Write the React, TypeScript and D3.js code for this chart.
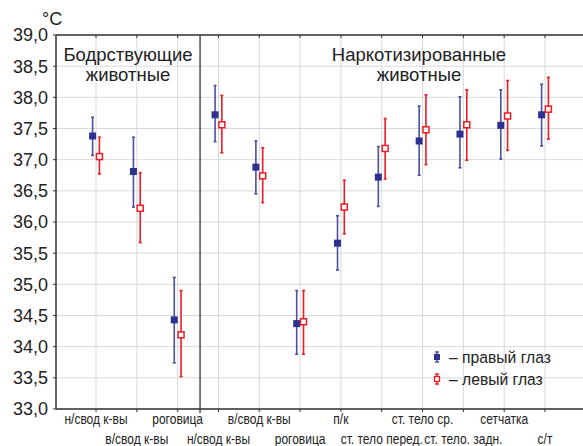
import React from "react";
import * as d3 from "d3";

const categories = [
  "н/свод к-вы", "в/свод к-вы", "роговица",
  "н/свод к-вы", "в/свод к-вы", "роговица",
  "п/к", "ст. тело перед.", "ст. тело ср.", "ст. тело. задн.", "сетчатка", "с/т",
];
const rightMean = [37.38, 36.81, 34.43, 37.72, 36.88, 34.37, 35.66, 36.72, 37.30, 37.41, 37.55, 37.72];
const rightLow = [37.07, 36.24, 33.74, 37.29, 36.45, 33.88, 35.23, 36.25, 36.75, 36.87, 37.01, 37.22];
const rightHigh = [37.68, 37.36, 35.11, 38.19, 37.30, 34.90, 36.10, 37.21, 37.86, 38.01, 38.12, 38.21];
const leftMean = [37.05, 36.22, 34.19, 37.56, 36.74, 34.40, 36.24, 37.18, 37.48, 37.56, 37.70, 37.81];
const leftLow = [36.77, 35.67, 33.52, 37.11, 36.31, 33.88, 35.81, 36.69, 36.92, 36.99, 37.15, 37.33];
const leftHigh = [37.36, 36.79, 34.90, 38.03, 37.19, 34.90, 36.67, 37.66, 38.04, 38.12, 38.27, 38.32];
const yTicks = [33, 33.5, 34, 34.5, 35, 35.5, 36, 36.5, 37, 37.5, 38, 38.5, 39];
const groupTitles = [["Бодрствующие", "животные"], ["Наркотизированные", "животные"]];
const legendLabels = ["– правый глаз", "– левый глаз"];

const W = 583, H = 446;
const left = 56, top = 35, bottom = 409;
const BLUE = "#2e3192";
const BLUE_BAR = "#4a4f9e";
const RED = "#ed1c24";
const FONT = "'Liberation Sans', Arial, sans-serif";

export default function App() {
  const x = d3.scaleLinear().domain([-1, 11]).range([55.2, 545]);
  const y = d3.scaleLinear().domain([33, 39]).range([bottom, top]);
  const fmt = (v: number) => v.toFixed(1).replace(".", ",");
  const off = 3.4;
  const sepX = (x(2) + x(3)) / 2 + 2;

  const series = [
    { mean: rightMean, lo: rightLow, hi: rightHigh, dx: -off, color: BLUE, bar: BLUE_BAR, filled: true },
    { mean: leftMean, lo: leftLow, hi: leftHigh, dx: off, color: RED, bar: RED, filled: false },
  ];

  return (
    <svg width={W} height={H} style={{ position: "absolute", left: 0, top: 0, background: "#fff" }}
      fontFamily={FONT}>
      {/* grid */}
      {yTicks.map((t) => (
        <line key={"gy" + t} x1={left} x2={W} y1={y(t)} y2={y(t)} stroke="#d9d9d9" strokeWidth={1} />
      ))}
      {categories.map((_, i) => (
        <line key={"gx" + i} x1={x(i)} x2={x(i)} y1={top} y2={bottom} stroke="#d9d9d9" strokeWidth={1} />
      ))}
      {/* axes */}
      <line x1={left} x2={left} y1={top} y2={bottom} stroke="#333" strokeWidth={1.5} />
      <line x1={left} x2={W} y1={bottom} y2={bottom} stroke="#333" strokeWidth={1.5} />
      <line x1={left} x2={W} y1={top} y2={top} stroke="#333" strokeWidth={1.5} />
      {yTicks.map((t) => (
        <line key={"ty" + t} x1={left - 3} x2={left} y1={y(t)} y2={y(t)} stroke="#333" strokeWidth={1} />
      ))}
      {categories.map((_, i) => (
        <g key={"tx" + i}>
          <line x1={x(i)} x2={x(i)} y1={bottom} y2={bottom + 3} stroke="#333" strokeWidth={1} />
          <line x1={x(i)} x2={x(i)} y1={top} y2={top + 3} stroke="#333" strokeWidth={1} />
        </g>
      ))}
      <line x1={sepX} x2={sepX} y1={top} y2={bottom + 4} stroke="#333" strokeWidth={1.3} />
      {/* y labels */}
      {yTicks.map((t) => (
        <text key={"ly" + t} x={48} y={y(t)} dy="0.36em" textAnchor="end" fontSize={18} fill="#222">
          {fmt(t)}
        </text>
      ))}
      <text x={42} y={25} fontSize={18} fill="#222">°C</text>
      {/* x labels */}
      {categories.map((c, i) => (
        <text key={"lx" + i} transform={`translate(${x(i)},${i % 2 === 0 ? 424 : 444}) scale(0.87,1)`}
          textAnchor="middle" fontSize={13.8} fill="#222">
          {c}
        </text>
      ))}
      {/* group titles */}
      {groupTitles.map((g, gi) => (
        <g key={"gt" + gi}>
          {g.map((line, li) => (
            <text key={li} x={gi === 0 ? 128 : 419} y={61 + li * 20} textAnchor="middle" fontSize={18.5} fill="#222">
              {line}
            </text>
          ))}
        </g>
      ))}
      {/* data */}
      {series.map((s, si) => (
        <g key={"s" + si}>
          {s.mean.map((m, i) => {
            const cx = x(i) + s.dx;
            return (
              <g key={i}>
                <line x1={cx} x2={cx} y1={y(s.lo[i])} y2={y(s.hi[i])} stroke={s.bar} strokeWidth={1.6} />
                <line x1={cx - 1.5} x2={cx + 1.5} y1={y(s.lo[i])} y2={y(s.lo[i])} stroke={s.bar} strokeWidth={1.6} />
                <line x1={cx - 1.5} x2={cx + 1.5} y1={y(s.hi[i])} y2={y(s.hi[i])} stroke={s.bar} strokeWidth={1.6} />
                {s.filled ? (
                  <rect x={cx - 3.5} y={y(m) - 3.5} width={7} height={7} fill={s.color} />
                ) : (
                  <rect x={cx - 3} y={y(m) - 3} width={6} height={6} fill="#fff" stroke={s.color} strokeWidth={1.5} />
                )}
              </g>
            );
          })}
        </g>
      ))}
      {/* legend */}
      {legendLabels.map((l, i) => {
        const ly = 357 + i * 22;
        const s = series[i];
        return (
          <g key={"lg" + i}>
            <line x1={437} x2={437} y1={ly - 5} y2={ly + 5} stroke={s.bar} strokeWidth={1.5} />
            <line x1={435} x2={439} y1={ly - 5} y2={ly - 5} stroke={s.bar} strokeWidth={1.5} />
            <line x1={435} x2={439} y1={ly + 5} y2={ly + 5} stroke={s.bar} strokeWidth={1.5} />
            {s.filled ? (
              <rect x={434} y={ly - 3} width={6} height={6} fill={s.color} />
            ) : (
              <rect x={434.5} y={ly - 2.5} width={5} height={5} fill="#fff" stroke={s.color} strokeWidth={1.3} />
            )}
            <text transform={`translate(449,${ly}) scale(0.95,1)`} dy="0.36em" fontSize={16.5} fill="#222">{l}</text>
          </g>
        );
      })}
    </svg>
  );
}
